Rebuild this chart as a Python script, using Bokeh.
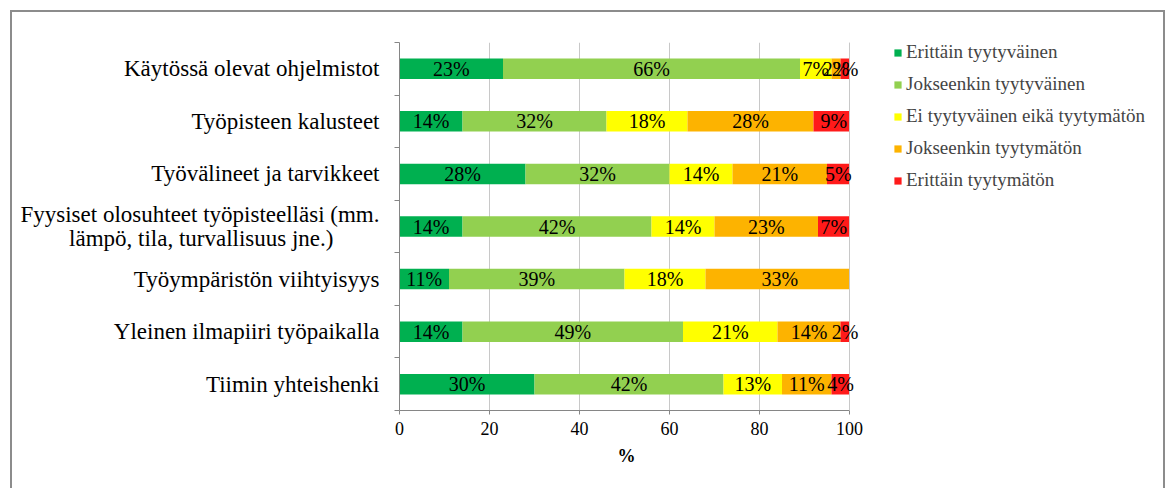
from bokeh.plotting import figure
from bokeh.models import (ColumnDataSource, Range1d, FixedTicker, LabelSet,
                          Legend, LegendItem, BoxAnnotation, Span, Title)
from bokeh.embed import file_html
from bokeh.resources import INLINE

NBSP = "\u00a0"

# Survey statements, listed top to bottom
categories = [
    "Käytössä olevat ohjelmistot",
    "Työpisteen kalusteet",
    "Työvälineet ja tarvikkeet",
    "Fyysiset olosuhteet työpisteelläsi (mm.\nlämpö, tila, turvallisuus jne.)" + NBSP * 8,
    "Työympäristön viihtyisyys",
    "Yleinen ilmapiiri työpaikalla",
    "Tiimin yhteishenki",
]

series_names = [
    "Erittäin tyytyväinen",
    "Jokseenkin tyytyväinen",
    "Ei tyytyväinen eikä tyytymätön",
    "Jokseenkin tyytymätön",
    "Erittäin tyytymätön",
]

# Share of answers (%) per statement
erittain_tyytyvainen = [23, 14, 28, 14, 11, 14, 30]
jokseenkin_tyytyvainen = [66, 32, 32, 42, 39, 49, 42]
ei_kumpikaan = [7, 18, 14, 14, 18, 21, 13]
jokseenkin_tyytymaton = [2, 28, 21, 23, 33, 14, 11]
erittain_tyytymaton = [2, 9, 5, 7, 0, 2, 4]

x_ticks = [0, 20, 40, 60, 80, 100]

colors = ["#00B050", "#92D050", "#FFFF00", "#FDB300", "#FF1A1A"]
FONT = "Liberation Serif"
AXIS_GREY = "#868686"
GRID_GREY = "#C8C8C8"

series = [erittain_tyytyvainen, jokseenkin_tyytyvainen, ei_kumpikaan,
          jokseenkin_tyytymaton, erittain_tyytymaton]
keys = ["s0", "s1", "s2", "s3", "s4"]

n = len(categories)
ypos = [i + 0.5 for i in range(n)]

data = {"y": ypos}
for k, vals in zip(keys, series):
    data[k] = vals
source = ColumnDataSource(data)

# Thin frame line around the whole chart area, drawn with CSS behind the canvas
frame_css = {
    "background-image": ", ".join(["linear-gradient(#8C8C8C, #8C8C8C)"] * 3),
    "background-size": "1154px 2px, 2px 600px, 2px 600px",
    "background-position": "10px 10px, 10px 10px, 1163px 10px",
    "background-repeat": "no-repeat",
    "background-color": "white",
}

# The plotting frame runs on past 100 % so the legend and edge labels fit in it
p = figure(width=1166, height=488, output_backend="svg", toolbar_location=None,
           x_range=Range1d(0, 170), y_range=Range1d(n, 0),
           min_border_left=399, min_border_right=2,
           min_border_top=42, min_border_bottom=78,
           styles=frame_css)
p.outline_line_color = None
p.background_fill_color = None
p.border_fill_color = None

renderers = p.hbar_stack(keys, y="y", height=0.39, color=colors,
                         line_color=None, source=source)

# The percentage scale stops at 100
p.add_layout(BoxAnnotation(left=100, right=110, fill_color="white", fill_alpha=1,
                           line_color=None))
p.add_layout(Span(location=100, dimension="height", line_color=GRID_GREY,
                  line_width=1))

# Value labels centred in each segment
lx, ly, lt = [], [], []
for row in range(n):
    left = 0
    for vals in series:
        v = vals[row]
        if v > 0:
            lx.append(left + v / 2)
            ly.append(ypos[row])
            lt.append(f"{v}%")
        left += v
labels = LabelSet(x="x", y="y", text="t",
                  source=ColumnDataSource(dict(x=lx, y=ly, t=lt)),
                  text_align="center", text_baseline="middle",
                  text_font=FONT, text_font_size="20px", text_color="black")
p.add_layout(labels)

# Axes
xa = p.xaxis[0]
xa.ticker = FixedTicker(ticks=x_ticks)
xa.bounds = (0, 100)
xa.major_label_text_font = FONT
xa.major_label_text_font_size = "18px"
xa.major_label_text_color = "black"
xa.major_label_standoff = 7
xa.axis_line_color = AXIS_GREY
xa.major_tick_line_color = AXIS_GREY
xa.major_tick_out = 4
xa.major_tick_in = 0
xa.minor_tick_line_color = None

# Axis title centred under the 0-100 scale
p.add_layout(Title(text="%", align="left", offset=218, standoff=13,
                   text_font=FONT, text_font_style="bold",
                   text_font_size="18px", text_color="black"), "below")

ya = p.yaxis[0]
ya.ticker = FixedTicker(ticks=ypos, minor_ticks=list(range(n + 1)))
ya.major_label_overrides = {y: c for y, c in zip(ypos, categories)}
ya.major_label_text_font = FONT
ya.major_label_text_font_size = "23px"
ya.major_label_text_line_height = 0.95
ya.major_label_text_color = "black"
ya.major_label_standoff = 15
ya.major_tick_out = 0
ya.major_tick_in = 0
ya.minor_tick_out = 5
ya.minor_tick_in = 0
ya.minor_tick_line_color = AXIS_GREY
ya.axis_line_color = AXIS_GREY

p.xgrid.ticker = FixedTicker(ticks=x_ticks)
p.xgrid.grid_line_color = GRID_GREY
p.ygrid.grid_line_color = None

# Legend to the right of the bars
items = [LegendItem(label=name, renderers=[r]) for name, r in zip(series_names, renderers)]
legend = Legend(items=items, location=(494, 219),
                label_text_font=FONT, label_text_font_size="19px",
                glyph_width=9, glyph_height=9, label_height=20,
                label_standoff=4, spacing=10, padding=0, margin=0,
                border_line_color=None, background_fill_alpha=0)
p.add_layout(legend, "center")

open("out.html", "w").write(file_html(p, INLINE))
